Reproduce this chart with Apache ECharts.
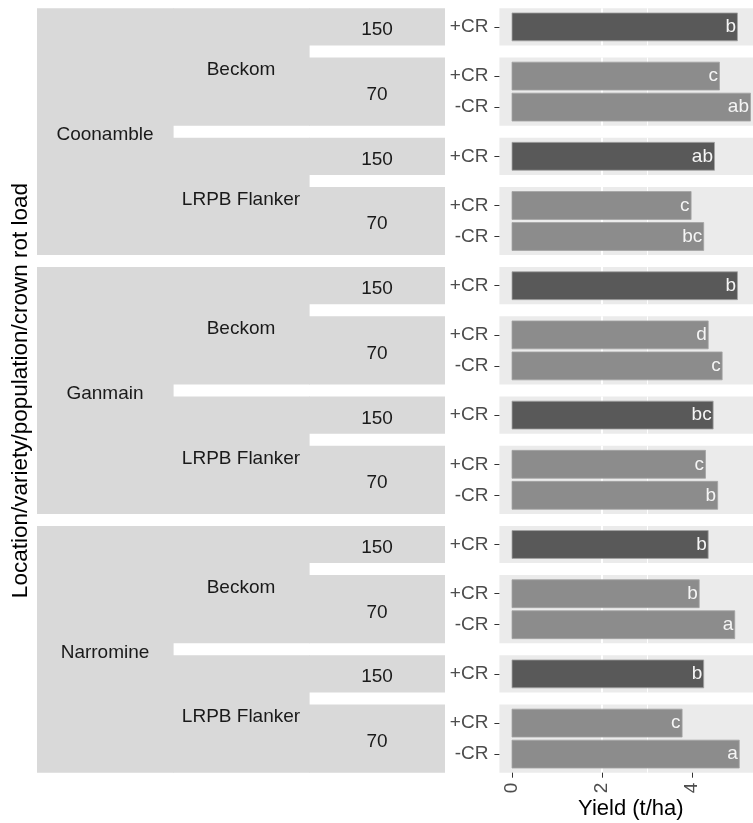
<!DOCTYPE html>
<html><head><meta charset="utf-8">
<script src="https://cdn.jsdelivr.net/npm/echarts@6/dist/echarts.min.js"></script>
<style>html,body{margin:0;padding:0;background:#fff}#c{width:753px;height:823px}</style>
</head><body><div id="c"></div>
<script>
// ---- data ----
const locations = ['Coonamble', 'Ganmain', 'Narromine'];
const varieties = ['Beckom', 'LRPB Flanker'];
const populations = ['150', '70'];
const crLevels150 = ['+CR'];
const crLevels70 = ['+CR', '-CR'];
// order in each location: Beckom 150 +CR, Beckom 70 +CR, Beckom 70 -CR, Flanker 150 +CR, Flanker 70 +CR, Flanker 70 -CR
const yieldCoonamble = [5.01, 4.61, 5.30, 4.50, 3.98, 4.26];
const yieldGanmain   = [5.01, 4.36, 4.67, 4.47, 4.30, 4.57];
const yieldNarromine = [4.36, 4.16, 4.95, 4.26, 3.78, 5.05];
const lettersCoonamble = ['b', 'c', 'ab', 'ab', 'c', 'bc'];
const lettersGanmain   = ['b', 'd', 'c', 'bc', 'c', 'b'];
const lettersNarromine = ['b', 'b', 'a', 'b', 'c', 'a'];
const xTickValues = [0, 2, 4];
const xMinorValues = [1, 3, 5];
const xAxisTitle = 'Yield (t/ha)';
const yAxisTitle = 'Location/variety/population/crown rot load';

// ---- layout ----
const yieldsByLoc = [yieldCoonamble, yieldGanmain, yieldNarromine];
const lettersByLoc = [lettersCoonamble, lettersGanmain, lettersNarromine];
const U = 31, GAP = 12, TOP = 8.3;
const PANEL_LEFT = 499.4, PANEL_WIDTH = 262.8, X_MIN = -0.28, X_MAX = 5.56;
const STRIPS = [{x: 37, w: 136}, {x: 173, w: 136}, {x: 309, w: 136}];
const FONT = '"Liberation Sans", Arial, sans-serif';
const SMALL = 19;
const STRIP_FILL = '#d9d9d9', STRIP_TEXT = '#1a1a1a';
const DARK = '#595959', LIGHT = '#8c8c8c';

const grids = [], xAxes = [], yAxes = [], series = [], graphics = [];
const totalPanels = locations.length * varieties.length * populations.length;
let y = TOP, p = 0;

function stripRect(level, top, h) {
  graphics.push({type: 'rect', shape: {x: STRIPS[level].x, y: top, width: STRIPS[level].w + (level < 2 ? 0.6 : 0), height: h},
    style: {fill: STRIP_FILL}, z: 0});
}
function stripText(level, text, top, h) {
  graphics.push({type: 'text', x: STRIPS[level].x + STRIPS[level].w / 2, y: top + h / 2 + 3.2,
    style: {text: text, font: SMALL + 'px ' + FONT, fill: STRIP_TEXT, align: 'center', verticalAlign: 'middle'}, z: 1});
}

locations.forEach((loc, li) => {
  const locTop = y;
  let k = 0;
  varieties.forEach((vr, vi) => {
    const varTop = y;
    populations.forEach((pop, pi) => {
      const levels = pop === '150' ? crLevels150 : crLevels70;
      const n = levels.length;
      const h = (n + 0.2) * U;
      const vals = yieldsByLoc[li].slice(k, k + n);
      const lets = lettersByLoc[li].slice(k, k + n);
      k += n;
      const isLast = p === totalPanels - 1;
      const pos = levels.map((_, i) => i + 1);
      grids.push({left: PANEL_LEFT, top: y, width: PANEL_WIDTH, height: h, show: true,
        outerBoundsMode: 'none', containLabel: false,
        backgroundColor: '#ebebeb', borderWidth: 0});
      xAxes.push({type: 'value', gridIndex: p, min: X_MIN, max: X_MAX, splitNumber: 3, position: 'bottom',
        axisLine: {show: false, onZero: false},
        axisTick: {show: isLast, length: 5, lineStyle: {color: '#333333', width: 1}, customValues: xTickValues},
        axisLabel: {show: isLast, customValues: xTickValues, rotate: 90, color: '#4d4d4d',
          fontSize: SMALL, fontFamily: FONT, margin: 10},
        splitLine: {show: true, showMinLine: false, showMaxLine: false, lineStyle: {color: '#ffffff', width: 2}}});
      xAxes.push({type: 'value', gridIndex: p, min: X_MIN, max: X_MAX, splitNumber: 6, position: 'top',
        axisLine: {show: false, onZero: false},
        axisTick: {show: false, customValues: xMinorValues},
        axisLabel: {show: false},
        splitLine: {show: true, showMinLine: false, showMaxLine: false, lineStyle: {color: '#ffffff', width: 1}}});
      yAxes.push({type: 'value', gridIndex: p, min: 0.4, max: n + 0.6, inverse: true, splitNumber: n, minInterval: 1,
        axisLine: {show: false, onZero: false},
        axisTick: {show: true, length: 5, lineStyle: {color: '#333333', width: 1}, customValues: pos},
        axisLabel: {show: true, customValues: pos, color: '#4d4d4d', fontSize: SMALL, fontFamily: FONT, margin: 11,
          formatter: v => (Number.isInteger(v) && levels[v - 1]) ? levels[v - 1] : ''},
        splitLine: {show: true, showMinLine: false, showMaxLine: false, lineStyle: {color: '#ffffff', width: 2}}});
      series.push({type: 'custom', xAxisIndex: 2 * p, yAxisIndex: p, encode: {x: 0, y: 1},
        itemStyle: {color: pop === '150' ? DARK : LIGHT},
        data: vals.map((v, i) => [v, i + 1]),
        renderItem: (params, api) => {
          const v = api.value(0), c = api.value(1);
          const a = api.coord([0, c - 0.45]);
          const b = api.coord([v, c + 0.45]);
          const top = Math.min(a[1], b[1]), hh = Math.abs(b[1] - a[1]);
          return {type: 'group', children: [
            {type: 'rect', shape: {x: a[0], y: top, width: b[0] - a[0], height: hh},
              style: {fill: api.visual('color'), stroke: '#a3a3a3', lineWidth: 0.8}},
            {type: 'text', x: b[0] - 1.5, y: top + hh / 2,
              style: {text: lets[params.dataIndex], font: SMALL + 'px ' + FONT, fill: '#f5f5f5',
                align: 'right', verticalAlign: 'middle'}}
          ]};
        }});
      stripRect(2, y, h);
      stripText(2, pop, y, h);
      y += h + GAP;
      p++;
    });
    const varH = y - GAP - varTop;
    stripRect(1, varTop, varH);
    stripText(1, vr, varTop, varH);
  });
  const locH = y - GAP - locTop;
  stripRect(0, locTop, locH);
  stripText(0, loc, locTop, locH);
});

const plotBottom = y - GAP;
graphics.push({type: 'text', x: 630.8, y: 809,
  style: {text: xAxisTitle, font: '22px ' + FONT, fill: '#000000', align: 'center', verticalAlign: 'middle'}});
graphics.push({type: 'text', x: 21, y: (TOP + plotBottom) / 2, rotation: Math.PI / 2,
  style: {text: yAxisTitle, font: '22.5px ' + FONT, fill: '#000000', align: 'center', verticalAlign: 'middle'}});

const chart = echarts.init(document.getElementById('c'), null, {renderer: 'canvas'});
chart.setOption({
  animation: false,
  backgroundColor: '#ffffff',
  grid: grids, xAxis: xAxes, yAxis: yAxes, series: series,
  graphic: {elements: graphics}
});
</script>
</body></html>
